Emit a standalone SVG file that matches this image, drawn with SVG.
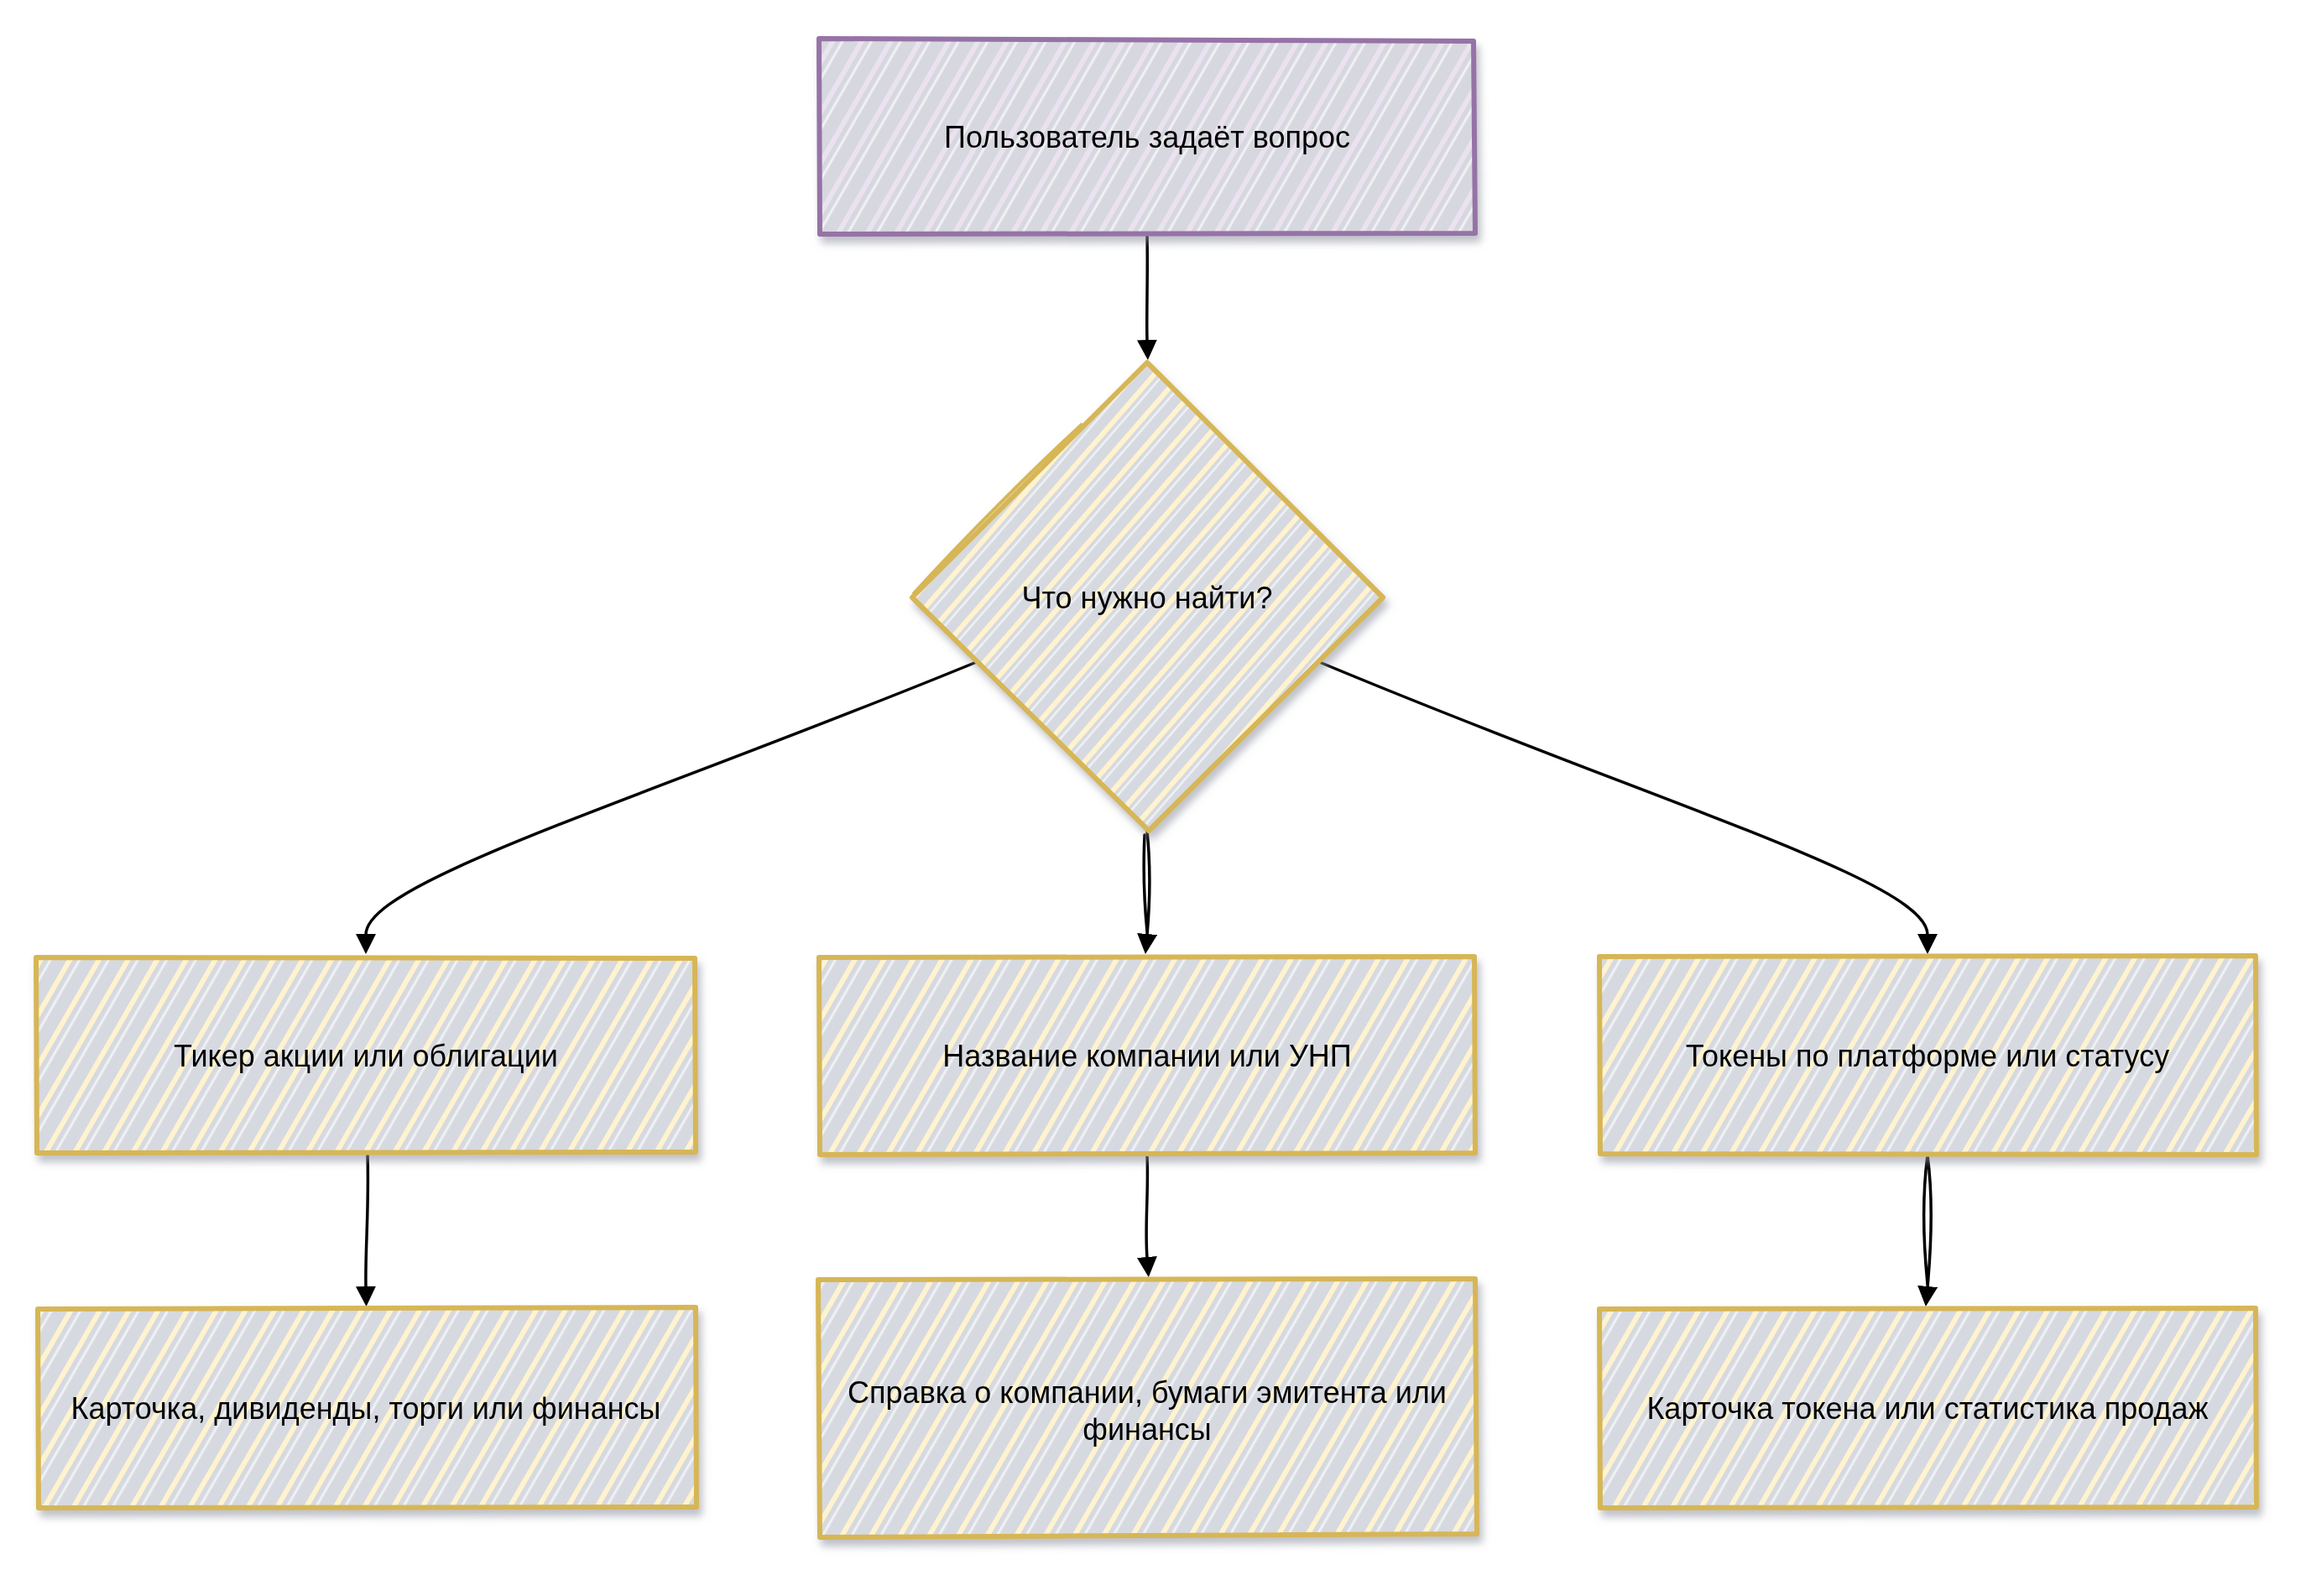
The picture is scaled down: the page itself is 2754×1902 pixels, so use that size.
<svg xmlns="http://www.w3.org/2000/svg" width="2754" height="1902" viewBox="0 0 2754 1902">
<defs>
<style>
text{font-family:"Liberation Sans",Arial,sans-serif;font-size:36px;fill:#000;text-anchor:middle}
.gold{stroke:#d6b656;stroke-width:6;stroke-linejoin:round;stroke-linecap:round}
.purple{stroke:#9673a6;stroke-width:6;stroke-linejoin:round;stroke-linecap:round}
.edge{fill:none;stroke:#000;stroke-width:3.5;stroke-linecap:round}
</style>
<filter id="sh" x="-5%" y="-5%" width="115%" height="125%">
<feDropShadow dx="4" dy="8" stdDeviation="5" flood-color="#8a8f9c" flood-opacity="0.55"/>
</filter>
<pattern id="hY" patternUnits="userSpaceOnUse" width="30" height="40" patternTransform="rotate(30)">
<rect width="30" height="40" fill="#d6d9df"/>
<line x1="14" y1="0" x2="14" y2="40" stroke="#fff3cf" stroke-width="6"/>
<line x1="24" y1="0" x2="24" y2="40" stroke="#f0f2f5" stroke-width="3"/>
</pattern>
<pattern id="hD" patternUnits="userSpaceOnUse" width="24" height="40" patternTransform="rotate(41)">
<rect width="24" height="40" fill="#d6d9df"/>
<line x1="11" y1="0" x2="11" y2="40" stroke="#fff3cf" stroke-width="6"/>
<line x1="19" y1="0" x2="19" y2="40" stroke="#f0f2f5" stroke-width="2.5"/>
</pattern>
<pattern id="hP" patternUnits="userSpaceOnUse" width="30" height="40" patternTransform="rotate(30)">
<rect width="30" height="40" fill="#d6d7df"/>
<line x1="14" y1="0" x2="14" y2="40" stroke="#ebe2ef" stroke-width="6"/>
<line x1="24" y1="0" x2="24" y2="40" stroke="#f2f2f6" stroke-width="3"/>
</pattern>
<marker id="arr" markerUnits="userSpaceOnUse" markerWidth="26" markerHeight="28" refX="1" refY="12" orient="auto">
<path d="M0,0 L24,12 L0,24 Z" fill="#000"/>
</marker>
</defs>
<rect width="2754" height="1902" fill="#fff"/>

<g id="connectors">
<path class="edge" d="M1367,281 C1368,330 1366,380 1367,406" marker-end="url(#arr)"/>
<path class="edge" d="M1166,788 C760,955 436,1050 436,1114" marker-end="url(#arr)"/>
<path class="edge" d="M1570,788 C1980,960 2297,1050 2297,1114" marker-end="url(#arr)"/>
<path class="edge" d="M1367,990 C1372,1040 1370,1080 1367,1114" marker-end="url(#arr)"/>
<path class="edge" d="M1364,995 C1362,1040 1364,1080 1367,1110" stroke-width="2"/>
<path class="edge" d="M438,1375 C440,1440 435,1490 436,1534" marker-end="url(#arr)"/>
<path class="edge" d="M1367,1377 C1369,1420 1364,1460 1367,1499" marker-end="url(#arr)"/>
<path class="edge" d="M2297,1377 C2304,1430 2301,1490 2297,1534" marker-end="url(#arr)"/>
<path class="edge" d="M2297,1377 C2290,1430 2293,1490 2297,1530" stroke-width="2.5"/>
</g>

<g id="n1" filter="url(#sh)">
<path fill="url(#hP)" class="purple" d="M976,46 L1756,49 L1758,278 L977,279 Z"/>
<text x="1367" y="176">Пользователь задаёт вопрос</text>
</g>

<g id="n2" filter="url(#sh)">
<path fill="url(#hD)" class="gold" d="M1367,432 L1648,712 L1369,990 L1087,712 Z"/>
<path fill="none" stroke="#d6b656" stroke-width="4" d="M1088,708 C1150,640 1230,560 1290,505"/>
<text x="1367" y="725">Что нужно найти?</text>
</g>

<g id="n3" filter="url(#sh)">
<path fill="url(#hY)" class="gold" d="M43,1141 L828,1142 L829,1373 L44,1374 Z"/>
<text x="436" y="1271">Тикер акции или облигации</text>
</g>

<g id="n4" filter="url(#sh)">
<path fill="url(#hY)" class="gold" d="M976,1141 L1757,1140 L1758,1374 L977,1376 Z"/>
<text x="1367" y="1271">Название компании или УНП</text>
</g>

<g id="n5" filter="url(#sh)">
<path fill="url(#hY)" class="gold" d="M1906,1140 L2688,1139 L2689,1376 L1907,1375 Z"/>
<text x="2297" y="1271">Токены по платформе или статусу</text>
</g>

<g id="n6" filter="url(#sh)">
<path fill="url(#hY)" class="gold" d="M45,1560 L829,1558 L830,1796 L46,1797 Z"/>
<text x="436" y="1691">Карточка, дивиденды, торги или финансы</text>
</g>

<g id="n7" filter="url(#sh)">
<path fill="url(#hY)" class="gold" d="M975,1525 L1758,1524 L1760,1828 L977,1832 Z"/>
<text x="1367" y="1672">Справка о компании, бумаги эмитента или</text>
<text x="1367" y="1716">финансы</text>
</g>

<g id="n8" filter="url(#sh)">
<path fill="url(#hY)" class="gold" d="M1906,1560 L2688,1559 L2689,1796 L1907,1797 Z"/>
<text x="2297" y="1691">Карточка токена или статистика продаж</text>
</g>
</svg>
